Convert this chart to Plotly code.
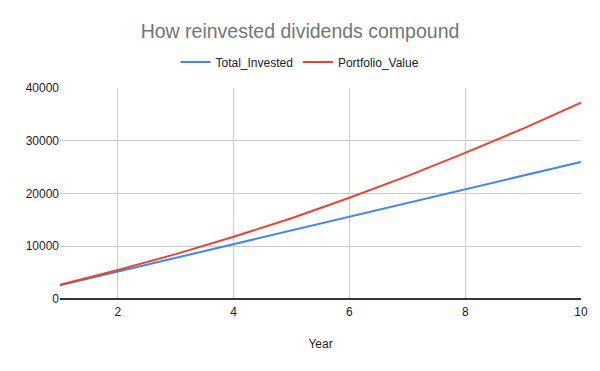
import plotly.graph_objects as go

years = [1, 2, 3, 4, 5, 6, 7, 8, 9, 10]
total_invested = [2600, 5200, 7800, 10400, 13000, 15600, 18200, 20800, 23400, 26000]
portfolio_value = [2700, 5500, 8500, 11800, 15300, 19200, 23300, 27700, 32300, 37200]

FONT = "Arial, Liberation Sans, sans-serif"

fig = go.Figure()
fig.add_trace(go.Scatter(x=years, y=total_invested, mode="lines", name="Total_Invested",
                         line=dict(color="#4285F4", width=2)))
fig.add_trace(go.Scatter(x=years, y=portfolio_value, mode="lines", name="Portfolio_Value",
                         line=dict(color="#EA4335", width=2)))

fig.update_layout(
    width=600, height=371,
    paper_bgcolor="white", plot_bgcolor="white",
    margin=dict(l=60, r=19, t=88, b=72),
    font=dict(family=FONT, size=12, color="#222222"),
    title=dict(text="How reinvested dividends compound", xref="container", x=0.5,
               xanchor="center", y=1 - 31 / 371, yanchor="middle",
               font=dict(family=FONT, size=19.5, color="#757575")),
    legend=dict(orientation="h", x=(300 - 60) / 521, xanchor="center",
                y=1.123, yanchor="middle",
                font=dict(family=FONT, size=12, color="#222222"), itemwidth=30),
    showlegend=True,
)
fig.update_xaxes(range=[1, 10], tick0=2, dtick=2, showgrid=True, gridcolor="#cccccc",
                 zeroline=False, showline=False, ticks="", ticklabelstandoff=4,
                 title=dict(text="Year", font=dict(size=12, color="#222222"), standoff=21),
                 tickfont=dict(size=12, color="#222222"))
fig.update_yaxes(range=[0, 40000], dtick=10000, showgrid=True, gridcolor="#cccccc",
                 zeroline=True, zerolinecolor="#333333", zerolinewidth=1.5,
                 showline=False, ticks="", tickformat="d",
                 tickfont=dict(size=12, color="#222222"))

fig.write_html("out.html", config={"displayModeBar": False},
               post_script="document.body.style.margin='0';")
